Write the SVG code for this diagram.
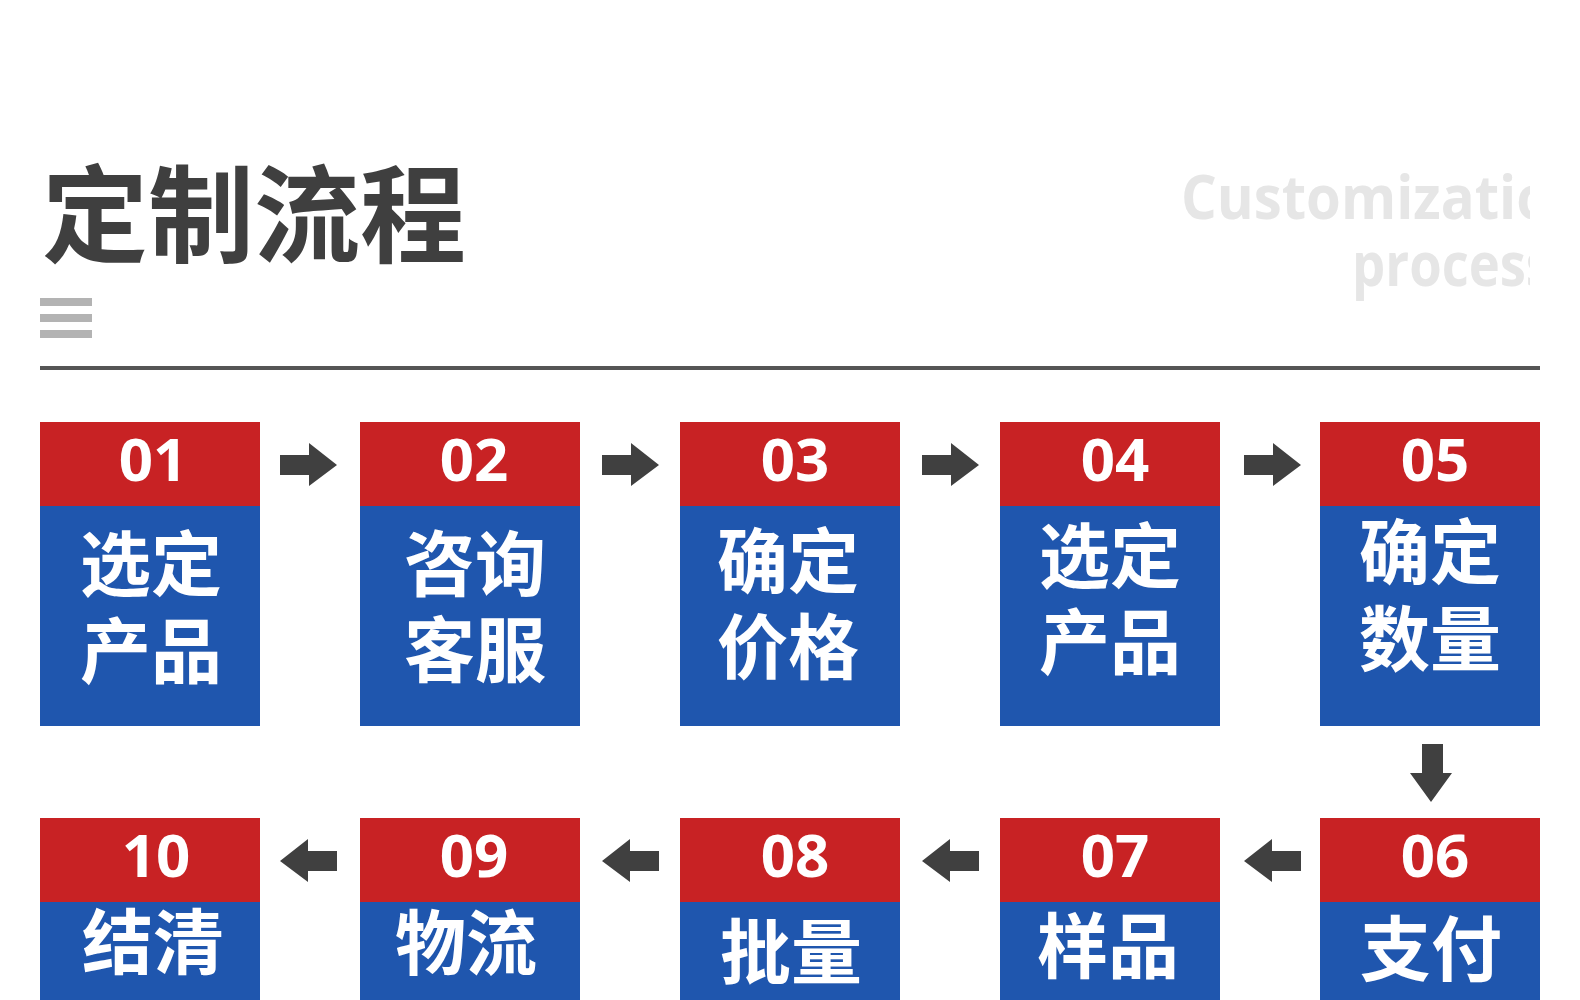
<svg xmlns="http://www.w3.org/2000/svg" width="1580" height="1000" viewBox="0 0 1580 1000">
<defs>
<style>
.title{font-family:"Noto Sans CJK SC","Noto Sans",sans-serif;font-weight:700;font-size:106px;fill:#3f3f3f}
.en{font-family:"Open Sans","Noto Sans",sans-serif;font-weight:700;font-size:60px;fill:#e6e6e6}
.red{fill:#c82224}
.blue{fill:#1f56ae}
.num{font-family:"Noto Sans","Open Sans",sans-serif;font-weight:700;font-size:60px;fill:#ffffff;text-anchor:middle}
.lbl{font-family:"Noto Sans CJK SC","Noto Sans",sans-serif;font-weight:700;font-size:71px;fill:#ffffff;text-anchor:middle}
.arrow{fill:#404040}
.bar{fill:#b3b3b3}
</style>
<clipPath id="enclip"><rect x="1100" y="140" width="430" height="180"/></clipPath>
<path id="ra" d="M0,-10 H29 V-22 L57,0 L29,21 V10 H0 Z"/>
<path id="la" d="M57,-10 H28 V-22 L0,0 L28,21 V10 H57 Z"/>
</defs>
<rect width="1580" height="1000" fill="#ffffff"/>

<g id="header">
<text class="title" x="42" y="254">定制流程</text>
<g clip-path="url(#enclip)">
<text class="en" x="1181" y="219" textLength="407" lengthAdjust="spacingAndGlyphs">Customization</text>
<text class="en" x="1352" y="286" textLength="200" lengthAdjust="spacingAndGlyphs">process</text>
</g>
<rect class="bar" x="40" y="298" width="52" height="8"/>
<rect class="bar" x="40" y="314" width="52" height="8"/>
<rect class="bar" x="40" y="330" width="52" height="8"/>
<rect x="40" y="366" width="1500" height="4" fill="#555555"/>
</g>

<g id="node01">
<rect class="red" x="40" y="422" width="220" height="84"/>
<rect class="blue" x="40" y="506" width="220" height="220"/>
<text class="num" x="153" y="481">01</text>
<text class="lbl" x="151" y="590">选定</text>
<text class="lbl" x="151" y="677">产品</text>
</g>
<g id="node02">
<rect class="red" x="360" y="422" width="220" height="84"/>
<rect class="blue" x="360" y="506" width="220" height="220"/>
<text class="num" x="474" y="481">02</text>
<text class="lbl" x="475" y="590">咨询</text>
<text class="lbl" x="475" y="676">客服</text>
</g>
<g id="node03">
<rect class="red" x="680" y="422" width="220" height="84"/>
<rect class="blue" x="680" y="506" width="220" height="220"/>
<text class="num" x="795" y="481">03</text>
<text class="lbl" x="788" y="587">确定</text>
<text class="lbl" x="788" y="673">价格</text>
</g>
<g id="node04">
<rect class="red" x="1000" y="422" width="220" height="84"/>
<rect class="blue" x="1000" y="506" width="220" height="220"/>
<text class="num" x="1115" y="481">04</text>
<text class="lbl" x="1110" y="582">选定</text>
<text class="lbl" x="1110" y="668">产品</text>
</g>
<g id="node05">
<rect class="red" x="1320" y="422" width="220" height="84"/>
<rect class="blue" x="1320" y="506" width="220" height="220"/>
<text class="num" x="1435" y="481">05</text>
<text class="lbl" x="1430" y="578">确定</text>
<text class="lbl" x="1430" y="665">数量</text>
</g>
<g id="node06">
<rect class="red" x="1320" y="818" width="220" height="84"/>
<rect class="blue" x="1320" y="902" width="220" height="98"/>
<text class="num" x="1435" y="877">06</text>
<text class="lbl" x="1431" y="975">支付</text>
</g>
<g id="node07">
<rect class="red" x="1000" y="818" width="220" height="84"/>
<rect class="blue" x="1000" y="902" width="220" height="98"/>
<text class="num" x="1115" y="877">07</text>
<text class="lbl" x="1108" y="972">样品</text>
</g>
<g id="node08">
<rect class="red" x="680" y="818" width="220" height="84"/>
<rect class="blue" x="680" y="902" width="220" height="98"/>
<text class="num" x="795" y="877">08</text>
<text class="lbl" x="791" y="978">批量</text>
</g>
<g id="node09">
<rect class="red" x="360" y="818" width="220" height="84"/>
<rect class="blue" x="360" y="902" width="220" height="98"/>
<text class="num" x="474" y="877">09</text>
<text class="lbl" x="466" y="969">物流</text>
</g>
<g id="node10">
<rect class="red" x="40" y="818" width="220" height="84"/>
<rect class="blue" x="40" y="902" width="220" height="98"/>
<text class="num" x="156" y="877">10</text>
<text class="lbl" x="153" y="968">结清</text>
</g>

<g id="connectors">
<use class="arrow" href="#ra" x="280" y="465"/>
<use class="arrow" href="#ra" x="602" y="465"/>
<use class="arrow" href="#ra" x="922" y="465"/>
<use class="arrow" href="#ra" x="1244" y="465"/>
<path class="arrow" d="M1422,744 V773 H1410 L1431,802 L1452,773 H1443 V744 Z"/>
<use class="arrow" href="#la" x="1244" y="861"/>
<use class="arrow" href="#la" x="922" y="861"/>
<use class="arrow" href="#la" x="602" y="861"/>
<use class="arrow" href="#la" x="280" y="861"/>
</g>
</svg>
